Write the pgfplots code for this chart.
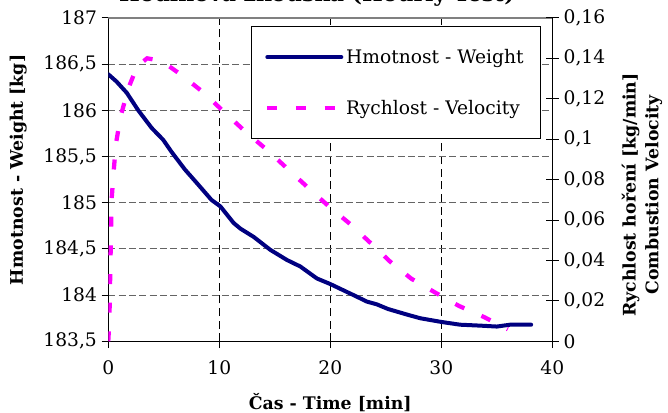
\documentclass[border=0pt]{standalone}
\usepackage{pgfplots}
\pgfplotsset{compat=1.18}
\usepackage{fontspec}
\setmainfont{DejaVu Serif}

\definecolor{weightblue}{RGB}{0,0,128}
\definecolor{velmag}{RGB}{255,0,255}
\definecolor{gridgray}{RGB}{100,100,100}

\newcommand{\chartfont}{\fontsize{14}{16.5}\selectfont}
\newcommand{\labelfont}{\fontsize{13}{17}\selectfont\bfseries}
\newcommand{\titlefont}{\fontsize{16.5}{19}\selectfont\bfseries}

\begin{document}
\begin{tikzpicture}
\pgfplotsset{
  common/.style={
    scale only axis, width=333pt, height=242.6pt,
    at={(0pt,0pt)}, anchor=south west,
    xmin=0, xmax=40,
    /pgf/number format/use comma,
    /pgf/number format/assume math mode=true,
    tick label style={font=\chartfont},
    axis line style={-, black, line width=1pt},
    tick style={black, line width=0.8pt},
  },
}
% Weight (left axis)
\begin{axis}[common,
  ymin=183.5, ymax=187,
  xtick={0,10,20,30,40},
  ytick={183.5,184,184.5,185,185.5,186,186.5,187},
  yticklabel style={/pgf/number format/fixed, /pgf/number format/precision=1},
  xticklabel style={yshift=-6pt},
  axis x line*=bottom, axis y line*=left,
  tick align=outside, major tick length=5pt,
  xmajorgrids, ymajorgrids,
  x grid style={black, dash pattern=on 6pt off 3.5pt, line width=0.6pt},
  y grid style={gridgray, dash pattern=on 5.25pt off 2.5pt, line width=0.8pt},
  xlabel={Čas - Time [min]},
  ylabel={Hmotnost - Weight [kg]},
  every axis x label/.style={at={(axis description cs:0.5,-0.19)}, anchor=center, font=\labelfont},
  every axis y label/.style={at={(axis description cs:-0.203,0.53)}, anchor=center, rotate=90, font=\labelfont},
  title={Hodinová zkouška (Hourly Test)},
  title style={at={(axis description cs:0.47,1.025)}, anchor=base, font=\titlefont},
]
\draw[gray, line width=1pt] (rel axis cs:0,1) -- (rel axis cs:1,1);
\addplot[weightblue, line width=3pt, line join=round, line cap=round] table {
t w
0 186.39
0.75 186.31
1.66 186.19
2.7 186.00
3.9 185.81
4.95 185.68
5.7 185.55
6.9 185.36
8.0 185.21
9.3 185.03
10.1 184.96
11.3 184.78
11.9 184.72
13.1 184.63
14.6 184.49
16.1 184.38
17.3 184.31
18.8 184.18
20.0 184.12
22.1 184.00
23.3 183.93
24.2 183.90
25.2 183.85
26.9 183.79
28.1 183.75
30.0 183.71
31.7 183.68
33.5 183.67
35.0 183.66
36.2 183.68
38.1 183.68
};
\end{axis}
% Burning rate (right axis)
\begin{axis}[common,
  ymin=0, ymax=0.16,
  axis x line=none, axis y line*=right,
  ytick={0,0.02,0.04,0.06,0.08,0.1,0.12,0.14,0.16},
  yticklabel style={/pgf/number format/fixed, /pgf/number format/precision=2},
  scaled y ticks=false,
  tick align=center, major tick length=10pt,
  ylabel={Rychlost hoření [kg/min]\\Combustion Velocity},
  every axis y label/.style={at={(axis description cs:1.202,0.453)}, anchor=center, rotate=90, align=center, font=\labelfont},
  legend image code/.code={\draw[#1] (0pt,0pt) -- (55.5pt,0pt);},
  legend style={at={(0.321,0.975)}, anchor=north west, draw=black, line width=0.6pt,
    fill=white, font=\chartfont, cells={anchor=west},
    inner xsep=10.5pt, inner ysep=15pt, row sep=22pt},
]
\addlegendimage{weightblue, line width=3pt, line cap=round}
\addlegendentry{Hmotnost - Weight}
\addplot[velmag, line width=3.2pt, dash pattern=on 7.5pt off 14pt] table {
t v
0 0
0.1 0.01
0.2 0.04
0.3 0.07
0.5 0.085
0.7 0.098
1.1 0.111
1.8 0.125
2.6 0.136
3.5 0.140
4.5 0.139
5.5 0.136
6.6 0.1317
8.6 0.123
10.4 0.1136
12.3 0.104
14.3 0.0947
16.1 0.0856
17.9 0.0765
19.8 0.0671
21.8 0.058
23.6 0.0488
25.4 0.0394
27.3 0.031
29.4 0.0243
31.6 0.0175
33.9 0.0119
36.0 0.006
};
\addlegendentry{Rychlost - Velocity}
\end{axis}
\pgfresetboundingbox
\useasboundingbox (-81.2pt,-53pt) rectangle (419.8pt,256pt);
\end{tikzpicture}
\end{document}
